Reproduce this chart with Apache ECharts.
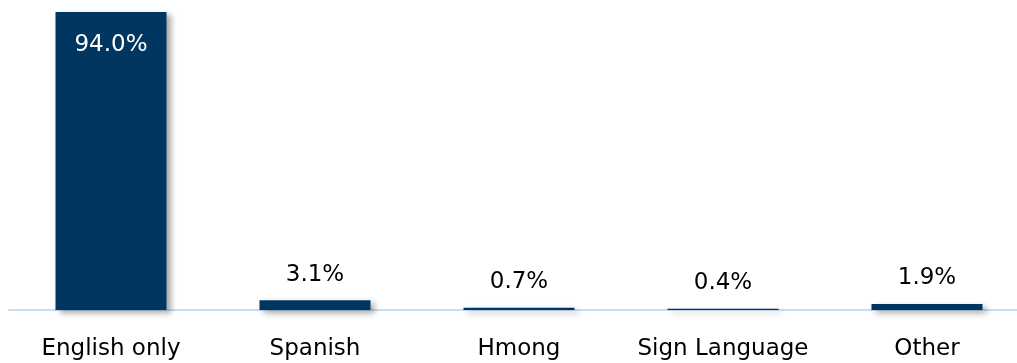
<!DOCTYPE html>
<html>
<head>
<meta charset="utf-8">
<script src="https://cdn.jsdelivr.net/npm/echarts@6/dist/echarts.min.js"></script>
<style>
  html, body { margin: 0; padding: 0; background: #ffffff; }
  #chart { width: 1017px; height: 363px; }
</style>
</head>
<body>
<div id="chart"></div>
<script>
// Language spoken at home, share of respondents (%)
const categories = ['English only', 'Spanish', 'Hmong', 'Sign Language', 'Other'];
const shares = [94.0, 3.1, 0.7, 0.4, 1.9];

const barColor = '#00365f';
const fontFamily = 'DejaVu Sans';

// The tallest bar carries its label inside, in white; the rest sit above their bars.
const seriesData = shares.map((v, i) => {
  const item = { value: v };
  if (v === Math.max(...shares)) {
    item.label = { position: 'insideTop', distance: 22, color: '#ffffff' };
  }
  return item;
});

const chart = echarts.init(document.getElementById('chart'), null, { renderer: 'canvas' });
chart.setOption({
  animation: false,
  backgroundColor: '#ffffff',
  // The plot runs slightly past the right edge of the canvas.
  grid: { left: 9, top: 12, bottom: 53, right: -12, containLabel: false, outerBoundsMode: 'none' },
  xAxis: {
    type: 'category',
    data: categories,
    axisLine: { show: true, lineStyle: { color: '#c3def6', width: 2 } },
    axisTick: { show: false },
    axisLabel: {
      color: '#000000',
      fontFamily: fontFamily,
      fontSize: 23,
      margin: 28,
      interval: 0
    }
  },
  yAxis: {
    type: 'value',
    min: 0,
    max: Math.max(...shares),
    show: false,
    splitLine: { show: false }
  },
  series: [{
    type: 'bar',
    data: seriesData,
    barWidth: 111,
    itemStyle: {
      color: barColor,
      shadowColor: 'rgba(0,0,0,0.35)',
      shadowBlur: 6,
      shadowOffsetX: 4,
      shadowOffsetY: 3
    },
    label: {
      show: true,
      position: 'top',
      distance: 14,
      color: '#000000',
      fontFamily: fontFamily,
      fontSize: 23,
      formatter: p => p.value.toFixed(1) + '%'
    }
  }]
});
</script>
</body>
</html>
